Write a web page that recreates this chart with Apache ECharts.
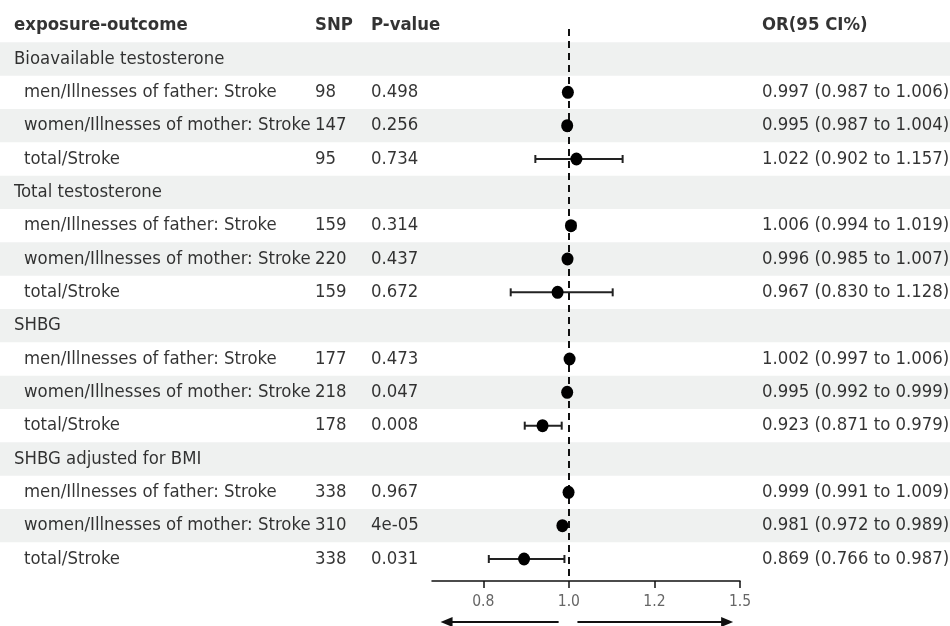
<!DOCTYPE html>
<html>
<head>
<meta charset="utf-8">
<script src="https://cdn.jsdelivr.net/npm/echarts@6/dist/echarts.min.js"></script>
<style>
  html, body { margin: 0; padding: 0; background: #fff; }
  #main { width: 950px; height: 626px; }
</style>
</head>
<body>
<div id="main"></div>
<script>
const headers = ['exposure-outcome', 'SNP', 'P-value', 'OR(95 CI%)'];
const groups = ['Bioavailable testosterone', 'Total testosterone', 'SHBG', 'SHBG adjusted for BMI'];
const outcomes = ['men/Illnesses of father: Stroke', 'women/Illnesses of mother: Stroke', 'total/Stroke'];

const snp = [[98, 147, 95], [159, 220, 159], [177, 218, 178], [338, 310, 338]];
const pval = [['0.498', '0.256', '0.734'], ['0.314', '0.437', '0.672'], ['0.473', '0.047', '0.008'], ['0.967', '4e-05', '0.031']];
const orVal = [[0.997, 0.995, 1.022], [1.006, 0.996, 0.967], [1.002, 0.995, 0.923], [0.999, 0.981, 0.869]];
const lower = [[0.987, 0.987, 0.902], [0.994, 0.985, 0.830], [0.997, 0.992, 0.871], [0.991, 0.972, 0.766]];
const upper = [[1.006, 1.004, 1.157], [1.019, 1.007, 1.128], [1.006, 0.999, 0.979], [1.009, 0.989, 0.987]];

const tickValues = [0.75, 1.0, 1.25, 1.5];
const tickLabels = ['0.8', '1.0', '1.2', '1.5'];

// layout
const FONT = "'DejaVu Sans Condensed', 'DejaVu Sans', sans-serif";
const TOP = 9, BOTTOM = 45;
const Y_MIN = -0.5, Y_MAX = 16.66;
const COL_X = [14, 315, 371, 762];
const INDENT = 10;
const INK = '#111';

// flatten rows: group header then its three outcomes
const rows = [];
groups.forEach((g, gi) => {
    rows.push({ type: 'group', name: g });
    outcomes.forEach((o, oi) => {
        rows.push({
            type: 'item', name: o,
            snp: snp[gi][oi], p: pval[gi][oi],
            or: orVal[gi][oi], lo: lower[gi][oi], hi: upper[gi][oi]
        });
    });
});

function textSeries(data, bold) {
    return {
        type: 'scatter',
        xAxisIndex: 0, yAxisIndex: 0,
        symbolSize: 0,
        silent: true,
        z: 3,
        data: data,
        label: {
            show: true,
            position: [0, 0],
            align: 'left',
            verticalAlign: 'middle',
            formatter: '{b}',
            fontFamily: FONT,
            fontSize: 18.4,
            fontWeight: bold ? 'bold' : 'normal',
            color: '#000'
        }
    };
}

const nameData = rows.map((r, i) => ({
    value: [r.type === 'group' ? COL_X[0] : COL_X[0] + INDENT, i + 1],
    name: r.name
}));
const items = rows.map((r, i) => ({ r: r, row: i + 1 })).filter(d => d.r.type === 'item');
const snpData = items.map(d => ({ value: [COL_X[1], d.row], name: String(d.r.snp) }));
const pData = items.map(d => ({ value: [COL_X[2], d.row], name: d.r.p }));
const orData = items.map(d => ({
    value: [COL_X[3], d.row],
    name: d.r.or.toFixed(3) + ' (' + d.r.lo.toFixed(3) + ' to ' + d.r.hi.toFixed(3) + ')'
}));
const headerData = headers.map((h, i) => ({ value: [COL_X[i], 0], name: h }));

const bands = [];
rows.forEach((r, i) => {
    const k = i + 1;
    if (k % 2 === 1) bands.push([{ yAxis: k - 0.5 }, { yAxis: k + 0.5 }]);
});

const chart = echarts.init(document.getElementById('main'));

const option = {
    animation: false,
    backgroundColor: '#fff',
    grid: [
        { left: 0, right: 0, top: TOP, bottom: BOTTOM },
        { left: 432, right: 210, top: TOP, bottom: BOTTOM }
    ],
    xAxis: [
        { gridIndex: 0, type: 'value', min: 0, max: 950, show: false },
        {
            gridIndex: 1, type: 'value', min: 0.6, max: 1.5,
            position: 'bottom',
            splitLine: { show: false },
            axisLine: { show: true, onZero: false, lineStyle: { color: INK, width: 1.5 } },
            axisTick: { show: true, length: 7, customValues: tickValues, lineStyle: { color: INK, width: 1.5 } },
            axisLabel: {
                customValues: tickValues,
                margin: 13,
                fontFamily: FONT,
                fontSize: 15.5,
                color: '#666',
                formatter: v => tickLabels[tickValues.indexOf(v)]
            }
        }
    ],
    yAxis: [
        { gridIndex: 0, type: 'value', min: Y_MIN, max: Y_MAX, inverse: true, show: false },
        { gridIndex: 1, type: 'value', min: Y_MIN, max: Y_MAX, inverse: true, show: false }
    ],
    series: [
        {
            type: 'scatter', xAxisIndex: 0, yAxisIndex: 0,
            data: [], silent: true, z: 0,
            markArea: {
                silent: true,
                itemStyle: { color: '#eff1f0' },
                data: bands
            }
        },
        textSeries(headerData, true),
        textSeries(nameData, false),
        textSeries(snpData, false),
        textSeries(pData, false),
        textSeries(orData, false),
        {
            type: 'custom', xAxisIndex: 1, yAxisIndex: 1, z: 4,
            data: items.map(d => [d.r.lo, d.r.hi, d.row]),
            renderItem: function (params, api) {
                const a = api.coord([api.value(0), api.value(2)]);
                const b = api.coord([api.value(1), api.value(2)]);
                const h = 4;
                const style = { stroke: '#222', lineWidth: 2 };
                return {
                    type: 'group',
                    children: [
                        { type: 'line', shape: { x1: a[0], y1: a[1], x2: b[0], y2: b[1] }, style: style },
                        { type: 'line', shape: { x1: a[0], y1: a[1] - h, x2: a[0], y2: a[1] + h }, style: style },
                        { type: 'line', shape: { x1: b[0], y1: b[1] - h, x2: b[0], y2: b[1] + h }, style: style }
                    ]
                };
            }
        },
        {
            type: 'scatter', xAxisIndex: 1, yAxisIndex: 1, z: 5,
            symbol: 'circle',
            symbolSize: [12, 13],
            itemStyle: { color: '#000', opacity: 1 },
            data: items.map(d => [d.r.or, d.row]),
            markLine: {
                silent: true,
                symbol: 'none',
                label: { show: false },
                lineStyle: { color: INK, type: [7, 5], width: 2 },
                data: [[{ coord: [1, 0.1] }, { coord: [1, Y_MAX] }]]
            }
        }
    ]
};

chart.setOption(option);

// direction arrows under the axis
const px = v => chart.convertToPixel({ xAxisIndex: 1 }, v);
const ay = 622;
const head = 12, hw = 5;
const lx1 = px(0.97), lx2 = px(0.625);
const rx1 = px(1.025), rx2 = px(1.48);
chart.setOption({
    graphic: [
        { type: 'line', shape: { x1: lx1, y1: ay, x2: lx2 + head - 2, y2: ay }, style: { stroke: INK, lineWidth: 2 } },
        { type: 'polygon', shape: { points: [[lx2, ay], [lx2 + head, ay - hw], [lx2 + head, ay + hw]] }, style: { fill: INK } },
        { type: 'line', shape: { x1: rx1, y1: ay, x2: rx2 - head + 2, y2: ay }, style: { stroke: INK, lineWidth: 2 } },
        { type: 'polygon', shape: { points: [[rx2, ay], [rx2 - head, ay - hw], [rx2 - head, ay + hw]] }, style: { fill: INK } }
    ]
});
</script>
</body>
</html>
